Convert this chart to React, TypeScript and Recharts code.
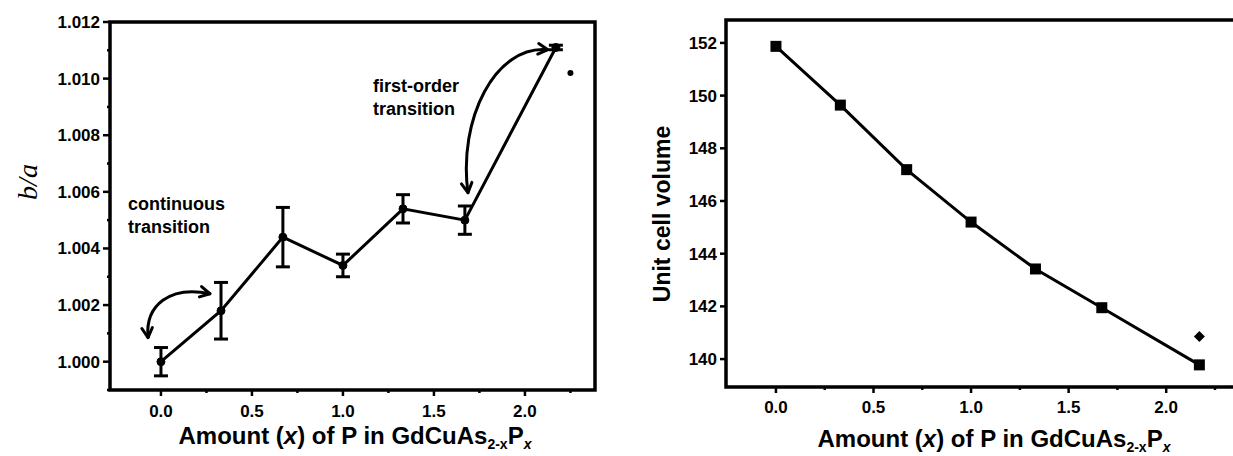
import { ComposedChart, Line, XAxis, YAxis, ErrorBar, ReferenceArea } from "recharts";

// composition x in GdCuAs(2-x)P(x)
const compositions = [0, 0.33, 0.67, 1.0, 1.33, 1.67, 2.17];

// b/a ratio with error bars
const ratioBA = [1.0, 1.0018, 1.0044, 1.0034, 1.0054, 1.005, 1.0111];
const ratioErr = [0.0005, 0.001, 0.00105, 0.0004, 0.0005, 0.0005, 0.00008];
const ratioOutlierX = [2.25];
const ratioOutlierY = [1.0102];

// unit cell volume
const cellVolume = [151.87, 149.64, 147.19, 145.2, 143.42, 141.95, 139.78];
const volumeOutlierX = [2.17];
const volumeOutlierY = [140.86];

const xTicks = [0, 0.25, 0.5, 0.75, 1, 1.25, 1.5, 1.75, 2, 2.25];
const ratioTicks = [0.999, 1.0, 1.001, 1.002, 1.003, 1.004, 1.005, 1.006, 1.007, 1.008, 1.009, 1.01, 1.011, 1.012];
const volumeTicks = [140, 142, 144, 146, 148, 150, 152];

// annotation arrows in data units: start, ctrl1, ctrl2, end
const continuousArrow = [[-0.071, 1.00085], [-0.088, 1.0020], [0.05, 1.0027], [0.269, 1.0024]];
const firstOrderArrow = [[1.687, 1.00597], [1.632, 1.00855], [1.835, 1.0112], [2.126, 1.01102]];

const ratioData = compositions.map((x, i) => ({ x, y: ratioBA[i], err: ratioErr[i] }));
const ratioOutlier = ratioOutlierX.map((x, i) => ({ x, y: ratioOutlierY[i] }));
const volumeData = compositions.map((x, i) => ({ x, y: cellVolume[i] }));
const volumeOutlier = volumeOutlierX.map((x, i) => ({ x, y: volumeOutlierY[i] }));

const FONT = "'Liberation Sans', Arial, sans-serif";

// left panel layout (page px)
const L = { left: 110, top: 22, right: 595, bottom: 390, width: 620 };
const L_X: [number, number] = [-0.28, 2.385];
const L_Y: [number, number] = [0.999, 1.012];

// right panel layout
const R = { offset: 640, left: 726, top: 20, right: 1254, bottom: 387, width: 640 };
const R_X: [number, number] = [-0.256, 2.45];
const R_Y: [number, number] = [138.94, 152.87];

const bottomTick = (labelDy: number) => (props: any) => {
  const { x, y, payload } = props;
  const v = payload.value as number;
  const major = Math.round(v * 4) % 2 === 0;
  return (
    <g>
      <line x1={x} y1={y} x2={x} y2={y + (major ? 6 : 3)} stroke="#000" strokeWidth={2.5} />
      {major && (
        <text x={x} y={y + labelDy} textAnchor="middle" fontFamily={FONT} fontWeight="bold" fontSize={17} fill="#000">
          {v.toFixed(1)}
        </text>
      )}
    </g>
  );
};

const RatioTick = (props: any) => {
  const { x, y, payload } = props;
  const v = payload.value as number;
  const major = Math.round(v * 1000) % 2 === 0;
  return (
    <g>
      <line x1={x} y1={y} x2={x - (major ? 7 : 3)} y2={y} stroke="#000" strokeWidth={2.5} />
      {major && (
        <text x={x - 10} y={y + 6} textAnchor="end" fontFamily={FONT} fontWeight="bold" fontSize={17} fill="#000">
          {v.toFixed(3)}
        </text>
      )}
    </g>
  );
};

const VolumeTick = (props: any) => {
  const { x, y, payload } = props;
  return (
    <g>
      <line x1={x} y1={y} x2={x - 6} y2={y} stroke="#000" strokeWidth={2.5} />
      <text x={x - 9} y={y + 6} textAnchor="end" fontFamily={FONT} fontWeight="bold" fontSize={17} fill="#000">
        {payload.value}
      </text>
    </g>
  );
};

const SquareDot = (props: any) => {
  const { cx, cy, index } = props;
  return <rect key={`sq-${index}`} x={cx - 5.5} y={cy - 5.5} width={11} height={11} fill="#000" />;
};

const DiamondDot = (props: any) => {
  const { cx, cy, index } = props;
  return <path key={`dm-${index}`} d={`M${cx},${cy - 5.5}L${cx + 5.5},${cy}L${cx},${cy + 5.5}L${cx - 5.5},${cy}Z`} fill="#000" />;
};

// map left-panel data coordinates to page px for the annotation overlay
const lx = (v: number) => L.left + ((v - L_X[0]) / (L_X[1] - L_X[0])) * (L.right - L.left);
const ly = (v: number) => L.bottom - ((v - L_Y[0]) / (L_Y[1] - L_Y[0])) * (L.bottom - L.top);

function CurvedArrow({ pts }: { pts: number[][] }) {
  const p = pts.map(([a, b]) => [lx(a), ly(b)]);
  const head = (tip: number[], from: number[]) => {
    const ang = Math.atan2(tip[1] - from[1], tip[0] - from[0]);
    const len = 11;
    const a1 = ang + Math.PI - 0.5;
    const a2 = ang + Math.PI + 0.5;
    return `M${tip[0] + len * Math.cos(a1)},${tip[1] + len * Math.sin(a1)}L${tip[0]},${tip[1]}L${tip[0] + len * Math.cos(a2)},${tip[1] + len * Math.sin(a2)}`;
  };
  return (
    <g fill="none" stroke="#000" strokeWidth={3} strokeLinecap="round" strokeLinejoin="round">
      <path d={`M${p[0][0]},${p[0][1]}C${p[1][0]},${p[1][1]} ${p[2][0]},${p[2][1]} ${p[3][0]},${p[3][1]}`} />
      <path d={head(p[0], p[1])} />
      <path d={head(p[3], p[2])} />
    </g>
  );
}

function AxisTitle({ x, y }: { x: number; y: number }) {
  return (
    <text x={x} y={y} textAnchor="middle" fontFamily={FONT} fontWeight="bold" fontSize={24} fill="#000">
      Amount (<tspan fontStyle="italic">x</tspan>) of P in GdCuAs
      <tspan dy={5} fontSize={14}>2-x</tspan>
      <tspan dy={-5}>P</tspan>
      <tspan dy={5} fontSize={14} fontStyle="italic">x</tspan>
    </text>
  );
}

export default function App() {
  return (
    <div style={{ position: "fixed", left: 0, top: 0, width: 1233, height: 456, overflow: "hidden", background: "#fff" }}>
      <div style={{ position: "absolute", left: 0, top: 0 }}>
        <ComposedChart width={L.width} height={456} margin={{ top: L.top, right: L.width - L.right, bottom: 0, left: 0 }}>
          <XAxis
            type="number"
            dataKey="x"
            domain={L_X}
            allowDataOverflow
            ticks={xTicks}
            interval={0}
            axisLine={false}
            tickLine={false}
            tickSize={0}
            tickMargin={0}
            height={456 - L.bottom}
            tick={bottomTick(27)}
          />
          <YAxis
            type="number"
            domain={L_Y}
            allowDataOverflow
            ticks={ratioTicks}
            interval={0}
            axisLine={false}
            tickLine={false}
            tickSize={0}
            tickMargin={0}
            width={L.left}
            tick={RatioTick}
          />
          <Line
            data={ratioData}
            dataKey="y"
            stroke="#000"
            strokeWidth={3}
            dot={{ r: 4, fill: "#000", stroke: "#000", strokeWidth: 1 }}
            activeDot={false}
            isAnimationActive={false}
          >
            <ErrorBar dataKey="err" width={7} strokeWidth={3} stroke="#000" direction="y" isAnimationActive={false} />
          </Line>
          <Line
            data={ratioOutlier}
            dataKey="y"
            stroke="none"
            dot={{ r: 3, fill: "#000", stroke: "none" }}
            activeDot={false}
            isAnimationActive={false}
          />
          <ReferenceArea x1={L_X[0]} x2={L_X[1]} y1={L_Y[0]} y2={L_Y[1]} fill="none" stroke="#000" strokeWidth={3.5} ifOverflow="visible" />
        </ComposedChart>
      </div>

      <div style={{ position: "absolute", left: R.offset, top: 0 }}>
        <ComposedChart
          width={R.width}
          height={456}
          margin={{ top: R.top, right: R.width - (R.right - R.offset), bottom: 0, left: 0 }}
        >
          <XAxis
            type="number"
            dataKey="x"
            domain={R_X}
            allowDataOverflow
            ticks={xTicks}
            interval={0}
            axisLine={false}
            tickLine={false}
            tickSize={0}
            tickMargin={0}
            height={456 - R.bottom}
            tick={bottomTick(26)}
          />
          <YAxis
            type="number"
            domain={R_Y}
            allowDataOverflow
            ticks={volumeTicks}
            interval={0}
            axisLine={false}
            tickLine={false}
            tickSize={0}
            tickMargin={0}
            width={R.left - R.offset}
            tick={VolumeTick}
          />
          <Line
            data={volumeData}
            dataKey="y"
            stroke="#000"
            strokeWidth={3}
            dot={SquareDot}
            activeDot={false}
            isAnimationActive={false}
          />
          <Line
            data={volumeOutlier}
            dataKey="y"
            stroke="none"
            dot={DiamondDot}
            activeDot={false}
            isAnimationActive={false}
          />
          <ReferenceArea x1={R_X[0]} x2={R_X[1]} y1={R_Y[0]} y2={R_Y[1]} fill="none" stroke="#000" strokeWidth={3.5} ifOverflow="visible" />
        </ComposedChart>
      </div>

      <svg width={1233} height={456} style={{ position: "absolute", left: 0, top: 0, pointerEvents: "none" }}>
        <text
          x={27}
          y={182}
          transform="rotate(-90 27 182)"
          textAnchor="middle"
          dominantBaseline="central"
          fontFamily="'Liberation Serif', 'Times New Roman', serif"
          fontStyle="italic"
          fontSize={28}
          fill="#000"
        >
          b/a
        </text>
        <text fontFamily={FONT} fontWeight="bold" fontSize={18} fill="#000">
          <tspan x={128} y={210}>continuous</tspan>
          <tspan x={128} y={233}>transition</tspan>
        </text>
        <text fontFamily={FONT} fontWeight="bold" fontSize={18} fill="#000">
          <tspan x={373} y={92}>first-order</tspan>
          <tspan x={373} y={115}>transition</tspan>
        </text>
        <CurvedArrow pts={continuousArrow} />
        <CurvedArrow pts={firstOrderArrow} />
        <AxisTitle x={355} y={444} />

        <text
          x={662}
          y={214}
          transform="rotate(-90 662 214)"
          textAnchor="middle"
          dominantBaseline="central"
          fontFamily={FONT}
          fontWeight="bold"
          fontSize={23}
          fill="#000"
        >
          Unit cell volume
        </text>
        <AxisTitle x={994} y={447} />
      </svg>
    </div>
  );
}
